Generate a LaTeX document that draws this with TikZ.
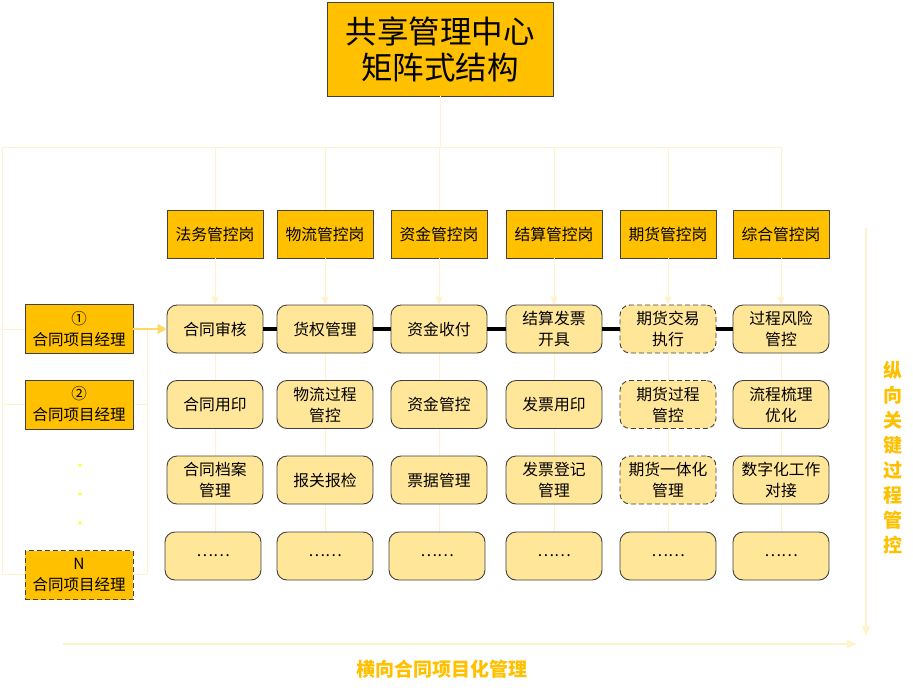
\documentclass[tikz,border=0pt]{standalone}
\usepackage{fontspec}
\setmainfont{Noto Sans CJK SC}
\usetikzlibrary{arrows.meta}
\definecolor{gold}{HTML}{FFC000}
\definecolor{taskfill}{HTML}{FFE699}
\definecolor{pale}{HTML}{FFF2CC}
\definecolor{midgold}{HTML}{FFD966}
\definecolor{bord}{HTML}{404040}
\definecolor{dotyel}{HTML}{FFFF00}
\begin{document}
\begin{tikzpicture}[x=1pt,y=-1pt,
  postbox/.style={draw=bord, fill=gold, line width=0.9pt, minimum width=96pt, minimum height=48pt, inner sep=0pt, align=center, font=\fontsize{15.8}{20}\selectfont},
  taskbox/.style={draw=bord, fill=taskfill, line width=0.9pt, rounded corners=10pt, minimum width=96pt, minimum height=48pt, inner sep=0pt, align=center, font=\fontsize{15.8}{21}\selectfont},
  pmbox/.style={draw=bord, fill=gold, line width=0.9pt, minimum width=108pt, minimum height=49pt, inner sep=0pt, align=center, font=\fontsize{15.5}{21}\selectfont},
  dashbox/.style={dash pattern=on 5pt off 3pt},
  paleline/.style={draw=pale, line width=1pt},
  palearrow/.style={draw=pale, line width=1pt, -{Triangle[length=8pt,width=7pt]}},
  bigarrow/.style={draw=pale, line width=1.6pt, -{Triangle[length=10pt,width=8pt]}},
  link/.style={draw=black, line width=3.2pt},
  axislabel/.style={text=gold, font=\fontsize{19}{25}\selectfont\bfseries, align=center}
]
\useasboundingbox (0,0) rectangle (913,689);

% title
\node[draw=bord, fill=gold, line width=0.9pt, minimum width=226pt, minimum height=94pt, inner sep=0pt, align=center, font=\fontsize{31.5}{36}\selectfont] (top) at (440,49) {共享管理中心\\矩阵式结构};

% posts
\node[postbox] (p1) at (215,234) {法务管控岗};
\node[postbox] (p2) at (325,234) {物流管控岗};
\node[postbox] (p3) at (439,234) {资金管控岗};
\node[postbox] (p4) at (554,234) {结算管控岗};
\node[postbox] (p5) at (668,234) {期货管控岗};
\node[postbox] (p6) at (781,234) {综合管控岗};

% branch coordinates
\coordinate (bl) at (2,147);
\coordinate (br) at (781,147);
\coordinate (bt) at (440,147);
\coordinate (lb) at (2,574);
\coordinate (rb) at (147,574);
\coordinate (l2) at (2,404);
\coordinate (r2) at (147,404);
\coordinate (l1) at (2,329);
\coordinate (r1) at (147,329);

% left bracket lines (behind)
\draw[paleline] (top.south) -- (bt);
\draw[paleline] (bl) -- (br);
\draw[paleline] (bl) -- (lb);
\draw[paleline] (l1) -- (25,329);
\draw[paleline] (l2) -- (r2);
\draw[paleline] (lb) -- (rb);
\draw[paleline] (r1) -- (rb);
\foreach \i in {1,...,6}{
  \draw[paleline] (p\i.north |- bl) -- (p\i.north);
}

% vertical column lines
\foreach \i/\x in {1/215,2/325,3/439,4/554,5/668,6/781}{
  \coordinate (ct\i) at (\x,329);
  \coordinate (cb\i) at (\x,556);
  \draw[paleline] (ct\i) -- (cb\i);
}

% row 1
\node[taskbox] (a1) at (215,329) {合同审核};
\node[taskbox] (a2) at (325,329) {货权管理};
\node[taskbox] (a3) at (439,329) {资金收付};
\node[taskbox] (a4) at (554,329) {结算发票\\开具};
\node[taskbox, dashbox] (a5) at (668,329) {期货交易\\执行};
\node[taskbox] (a6) at (781,329) {过程风险\\管控};
% row 2
\node[taskbox] (b1) at (215,404.5) {合同用印};
\node[taskbox] (b2) at (325,404.5) {物流过程\\管控};
\node[taskbox] (b3) at (439,404.5) {资金管控};
\node[taskbox] (b4) at (554,404.5) {发票用印};
\node[taskbox, dashbox] (b5) at (668,404.5) {期货过程\\管控};
\node[taskbox] (b6) at (781,404.5) {流程梳理\\优化};
% row 3
\node[taskbox] (c1) at (215,480) {合同档案\\管理};
\node[taskbox] (c2) at (325,480) {报关报检};
\node[taskbox] (c3) at (439,480) {票据管理};
\node[taskbox] (c4) at (554,480) {发票登记\\管理};
\node[taskbox, dashbox] (c5) at (668,480) {期货一体化\\管理};
\node[taskbox] (c6) at (781,480) {数字化工作\\对接};
% row 4
\node[taskbox] (d1) at (213,556) {……};
\node[taskbox] (d2) at (325,556) {……};
\node[taskbox] (d3) at (437,556) {……};
\node[taskbox] (d4) at (554,556) {……};
\node[taskbox] (d5) at (668,556) {……};
\node[taskbox] (d6) at (781,556) {……};

% arrows from posts
\foreach \i in {1,...,6}{
  \draw[palearrow] (p\i.south) -- (a\i.north);
}

% thick links in row 1
\draw[link] (a1.east) -- (a2.west);
\draw[link] (a2.east) -- (a3.west);
\draw[link] (a3.east) -- (a4.west);
\draw[link] (a4.east) -- (a5.west);
\draw[link] (a5.east) -- (a6.west);

% project managers
\node[pmbox] (m1) at (79,329) {①\\合同项目经理};
\node[pmbox] (m2) at (79,404.5) {②\\合同项目经理};
\node[pmbox, dashbox] (mn) at (79,575) {N\\合同项目经理};
\draw[draw=midgold, line width=2pt, -{Triangle[length=9pt,width=10pt]}] (m1.east) -- (a1.west);

% dots
\fill[dotyel] (80,465) circle (1.6pt);
\fill[dotyel] (80,494) circle (1.6pt);
\fill[dotyel] (80,523) circle (1.6pt);

% axes
\coordinate (vs) at (866,228);
\coordinate (ve) at (866,636);
\coordinate (hs) at (63,644);
\coordinate (he) at (857,644);
\draw[bigarrow] (vs) -- (ve);
\draw[bigarrow] (hs) -- (he);

\node[axislabel] (vlab) at (893,458) {纵\\向\\关\\键\\过\\程\\管\\控};
\node[axislabel] (hlab) at (442,669) {横向合同项目化管理};
\end{tikzpicture}
\end{document}
